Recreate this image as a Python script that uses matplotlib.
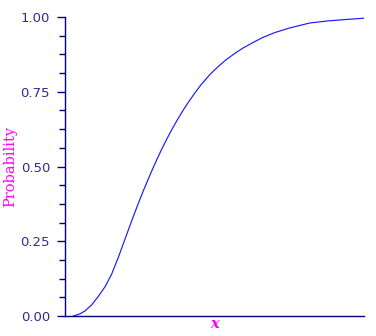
import numpy as np
import matplotlib.pyplot as plt
from matplotlib.ticker import MultipleLocator, NullLocator


# cumulative probability curve, read off in axis units (x axis 0..10, no labels)
x_vals = [0.28, 0.50, 0.67, 0.89, 1.11, 1.34, 1.56, 1.78, 2.01, 2.23, 2.45,
          2.62, 2.90, 3.07, 3.23, 3.40, 3.57, 3.74, 3.95, 4.12, 4.35, 4.57,
          4.85, 5.13, 5.40, 5.69, 5.95, 6.24, 6.60, 7.02, 7.50, 8.19, 8.80,
          9.31, 10.0]
prob_vals = [0.000, 0.007, 0.017, 0.037, 0.065, 0.098, 0.140, 0.195, 0.258,
             0.318, 0.376, 0.419, 0.485, 0.523, 0.557, 0.591, 0.623, 0.653,
             0.688, 0.714, 0.747, 0.776, 0.808, 0.835, 0.858, 0.879, 0.896,
             0.912, 0.931, 0.948, 0.963, 0.980, 0.987, 0.991, 0.996]

axis_col = '#000080'
text_col = '#2e2e8e'
label_col = '#ff00ff'

fig = plt.figure(figsize=(3.76, 3.36), dpi=100)
ax = fig.add_axes([65 / 376, 20 / 336, 299 / 376, 299 / 336])

ax.plot(x_vals, prob_vals, color='#1a1aff', linewidth=0.85)

ax.set_xlim(0, 10)
ax.set_ylim(0, 1)

for side in ['top', 'right']:
	ax.spines[side].set_visible(False)
for side in ['left', 'bottom']:
	ax.spines[side].set_color(axis_col)
	ax.spines[side].set_linewidth(1.0)

ax.xaxis.set_major_locator(NullLocator())
ax.yaxis.set_major_locator(MultipleLocator(0.25))
ax.yaxis.set_minor_locator(MultipleLocator(0.0625))
ax.yaxis.set_major_formatter(lambda v, pos: '%.2f' % v)
ax.tick_params(axis='y', which='major', length=5.8, width=1.0, color=axis_col,
               labelcolor=text_col, labelsize=9.5, pad=5)
ax.tick_params(axis='y', which='minor', length=4.3, width=1.0, color=axis_col)

ax.set_ylabel('Probability', color=label_col, fontsize=10.5, family='serif')
ax.yaxis.set_label_coords(-0.16, 0.5)
ax.set_xlabel('x', color=label_col, fontsize=10.5, family='serif',
              style='italic', weight='bold', labelpad=1)

fig.savefig('out.png', dpi=100)
